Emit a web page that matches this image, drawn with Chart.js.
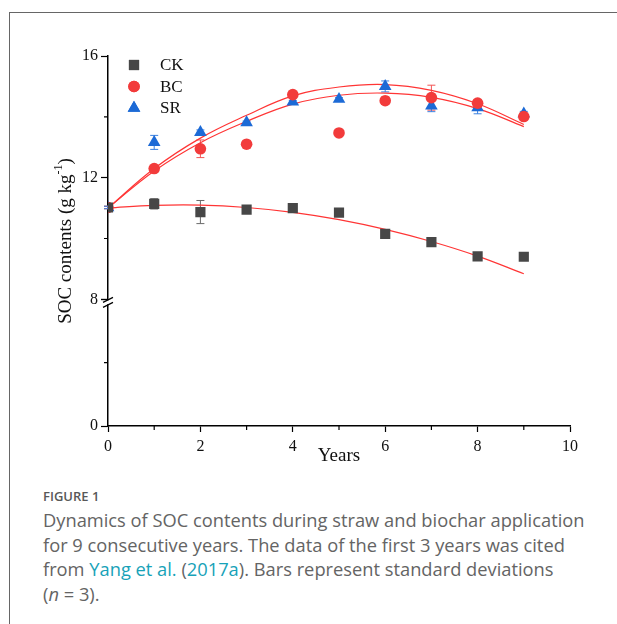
<!DOCTYPE html>
<html lang="en">
<head>
  <meta charset="UTF-8">
  <title>Dynamics of SOC contents</title>
  <script src="https://cdn.jsdelivr.net/npm/chart.js"></script>
  <style>
    body {
      margin: 0;
      background: #fff;
      width: 617px;
      height: 624px;
      overflow: hidden;
      position: relative;
      font-family: 'Open Sans', sans-serif;
    }
    .frame {
      position: absolute;
      left: 9px;
      top: 12px;
      right: 0;
      bottom: 0;
      border-top: 1.5px solid #666;
      border-left: 1.5px solid #666;
    }
    .chart-box {
      position: absolute;
      left: 0;
      top: 0;
      width: 617px;
      height: 480px;
    }
    .caption {
      position: absolute;
      left: 43px;
      top: 488px;
      color: #646464;
      white-space: nowrap;
    }
    .caption h4 {
      margin: 0;
      font-size: 13px;
      line-height: 17px;
      font-weight: 600;
      color: #585858;
    }
    .caption p {
      margin: 3px 0 0;
      font-size: 18.3px;
      line-height: 24.5px;
    }
    .caption a { color: #17a2b8; text-decoration: none; }
  </style>
</head>
<body>
  <div class="frame"></div>
  <div class="chart-box"><canvas id="socChart" width="617" height="480"></canvas></div>
  <div class="caption">
    <h4>FIGURE 1</h4>
    <p>Dynamics of SOC contents during straw and biochar application<br>
    for 9 consecutive years. The data of the first 3 years was cited<br>
    from <a>Yang et al.</a> (<a>2017a</a>). Bars represent standard deviations<br>
    (<i>n</i> = 3).</p>
  </div>

  <script>
    // data
    const years = [0, 1, 2, 3, 4, 5, 6, 7, 8, 9];
    const ckValues = [11.02, 11.14, 10.87, 10.95, 11.00, 10.85, 10.15, 9.88, 9.41, 9.40];
    const bcValues = [11.02, 12.30, 12.95, 13.10, 14.73, 13.47, 14.53, 14.63, 14.45, 14.01];
    const srValues = [11.02, 13.16, 13.49, 13.81, 14.49, 14.58, 15.00, 14.36, 14.30, 14.10];
    const ckErrors = [0.04, 0.17, 0.38, 0.05, 0.05, 0.05, 0.05, 0.05, 0.05, 0.12];
    const bcErrors = [0.04, 0.08, 0.29, 0.05, 0.08, 0.05, 0.12, 0.41, 0.10, 0.08];
    const srErrors = [0.04, 0.23, 0.08, 0.05, 0.05, 0.05, 0.18, 0.19, 0.20, 0.08];
    // fitted curves (values read at each year)
    const ckFit = [11.00, 11.09, 11.10, 11.02, 10.86, 10.62, 10.30, 9.90, 9.42, 8.84];
    const bcFit = [11.00, 12.22, 13.15, 13.85, 14.42, 14.71, 14.78, 14.64, 14.27, 13.68];
    const srFit = [11.00, 12.30, 13.30, 14.05, 14.69, 14.98, 15.06, 14.87, 14.43, 13.75];
    const xMinorTicks = [1, 3, 5, 7, 9];
    const yMinorTicks = [10, 14];
    const yLowMinorTicks = [4];

    const serif = "'Liberation Serif', 'Times New Roman', serif";
    const toPoints = vals => years.map((x, i) => ({ x: x, y: vals[i] }));

    const series = [
      { label: 'CK', values: ckValues, errors: ckErrors, color: '#474747', errColor: '#6a6a6a', style: 'rect', radius: 7.2 },
      { label: 'BC', values: bcValues, errors: bcErrors, color: '#f23b3b', errColor: '#f25555', style: 'circle', radius: 5.8 },
      { label: 'SR', values: srValues, errors: srErrors, color: '#1c6ad6', errColor: '#3a80e0', style: 'triangle', radius: 7.3 }
    ];

    const fitLine = vals => ({
      data: toPoints(vals),
      showLine: true,
      borderColor: '#ff3535',
      borderWidth: 1.2,
      pointRadius: 0,
      tension: 0.4,
      fill: false,
      yAxisID: 'y'
    });

    // error bars
    const errorBars = {
      id: 'errorBars',
      beforeDatasetsDraw(chart) {
        const ctx = chart.ctx, xs = chart.scales.x, ys = chart.scales.y;
        ctx.save();
        ctx.lineWidth = 1;
        series.forEach(s => {
          ctx.strokeStyle = s.errColor;
          s.values.forEach((v, i) => {
            const px = xs.getPixelForValue(years[i]);
            const top = ys.getPixelForValue(v + s.errors[i]);
            const bot = ys.getPixelForValue(v - s.errors[i]);
            ctx.beginPath();
            ctx.moveTo(px, top); ctx.lineTo(px, bot);
            ctx.moveTo(px - 4, top); ctx.lineTo(px + 4, top);
            ctx.moveTo(px - 4, bot); ctx.lineTo(px + 4, bot);
            ctx.stroke();
          });
        });
        ctx.restore();
      }
    };

    // legend, y title, minor ticks, axis break
    const decorations = {
      id: 'decorations',
      afterDraw(chart) {
        const ctx = chart.ctx, area = chart.chartArea;
        const xs = chart.scales.x, ys = chart.scales.y, ysLow = chart.scales.yLow;
        ctx.save();

        // minor ticks
        ctx.strokeStyle = '#000';
        ctx.lineWidth = 1.2;
        ctx.beginPath();
        xMinorTicks.forEach(v => {
          const px = xs.getPixelForValue(v);
          ctx.moveTo(px, area.bottom); ctx.lineTo(px, area.bottom + 4);
        });
        yMinorTicks.forEach(v => {
          const py = ys.getPixelForValue(v);
          ctx.moveTo(area.left, py); ctx.lineTo(area.left - 4, py);
        });
        yLowMinorTicks.forEach(v => {
          const py = ysLow.getPixelForValue(v);
          ctx.moveTo(area.left, py); ctx.lineTo(area.left - 4, py);
        });
        ctx.stroke();

        // axis break
        const by = ys.bottom;
        ctx.fillStyle = '#fff';
        ctx.fillRect(area.left - 2, by + 1, 4, 4);
        ctx.beginPath();
        ctx.moveTo(area.left - 5, by + 3); ctx.lineTo(area.left + 5, by - 2);
        ctx.moveTo(area.left - 5, by + 8); ctx.lineTo(area.left + 5, by + 3);
        ctx.stroke();

        // legend
        ctx.font = '17px ' + serif;
        ctx.textBaseline = 'middle';
        ctx.textAlign = 'left';
        series.forEach((s, i) => {
          const ly = 65 + i * 21.5;
          ctx.fillStyle = s.color;
          ctx.strokeStyle = s.color;
          Chart.helpers.drawPoint(ctx, { pointStyle: s.style, radius: s.radius, rotation: 0, borderWidth: 0 }, 134, ly);
          ctx.fill();
          ctx.fillStyle = '#111';
          ctx.fillText(s.label, 160, ly + 1);
        });

        // y axis title with superscript
        const main = 'SOC contents (g kg';
        const sup = '-1';
        const tail = ')';
        ctx.font = '19px ' + serif;
        const w1 = ctx.measureText(main).width;
        const w3 = ctx.measureText(tail).width;
        ctx.font = '12px ' + serif;
        const w2 = ctx.measureText(sup).width;
        const total = w1 + w2 + w3;
        ctx.translate(66, (area.top + area.bottom) / 2);
        ctx.rotate(-Math.PI / 2);
        ctx.fillStyle = '#111';
        let cx = -total / 2;
        ctx.font = '19px ' + serif;
        ctx.fillText(main, cx, 0);
        cx += w1;
        ctx.font = '12px ' + serif;
        ctx.fillText(sup, cx, -7);
        cx += w2;
        ctx.font = '19px ' + serif;
        ctx.fillText(tail, cx, 0);

        ctx.restore();
      }
    };

    const datasets = series.map(s => ({
      label: s.label,
      data: toPoints(s.values),
      pointStyle: s.style,
      pointRadius: s.radius,
      pointHoverRadius: s.radius,
      backgroundColor: s.color,
      borderColor: s.color,
      borderWidth: 0,
      showLine: false,
      yAxisID: 'y'
    })).concat([fitLine(ckFit), fitLine(bcFit), fitLine(srFit)]);

    const axisBorder = { color: '#000', width: 1.5 };
    const tickFont = { family: serif, size: 16 };

    new Chart(document.getElementById('socChart').getContext('2d'), {
      type: 'scatter',
      data: { datasets: datasets },
      options: {
        responsive: false,
        animation: false,
        layout: { padding: { left: 20, right: 47, top: 56, bottom: 13 } },
        plugins: {
          legend: { display: false },
          tooltip: { enabled: false }
        },
        scales: {
          x: {
            type: 'linear', position: 'bottom', min: 0, max: 10,
            ticks: {
              stepSize: 2, color: '#111', font: tickFont, padding: 5, maxRotation: 0,
              callback: v => v
            },
            grid: { drawOnChartArea: false, tickLength: 6, tickColor: '#000', tickWidth: 1.2 },
            border: axisBorder,
            title: { display: true, text: 'Years', color: '#111', font: { family: serif, size: 19 }, padding: 0 },
            afterFit: s => { s.height = 41; }
          },
          // lower part of the broken axis (defined first so it sits at the bottom)
          yLow: {
            type: 'linear', position: 'left', min: 0, max: 8, display: true,
            stack: 'soc', stackWeight: 127,
            ticks: { stepSize: 8, color: '#111', font: tickFont, padding: 3 },
            grid: { drawOnChartArea: false, tickLength: 7, tickColor: '#000', tickWidth: 1.2 },
            border: axisBorder,
            afterFit: s => { s.width = 88; }
          },
          y: {
            type: 'linear', position: 'left', min: 8, max: 16,
            stack: 'soc', stackWeight: 244,
            ticks: {
              stepSize: 4, color: '#111', font: tickFont, padding: 3,
              callback: v => (v === 8 ? '' : v)
            },
            grid: { drawOnChartArea: false, tickLength: 7, tickColor: '#000', tickWidth: 1.2 },
            border: axisBorder,
            afterFit: s => { s.width = 88; }
          }
        }
      },
      plugins: [errorBars, decorations]
    });
  </script>
</body>
</html>
